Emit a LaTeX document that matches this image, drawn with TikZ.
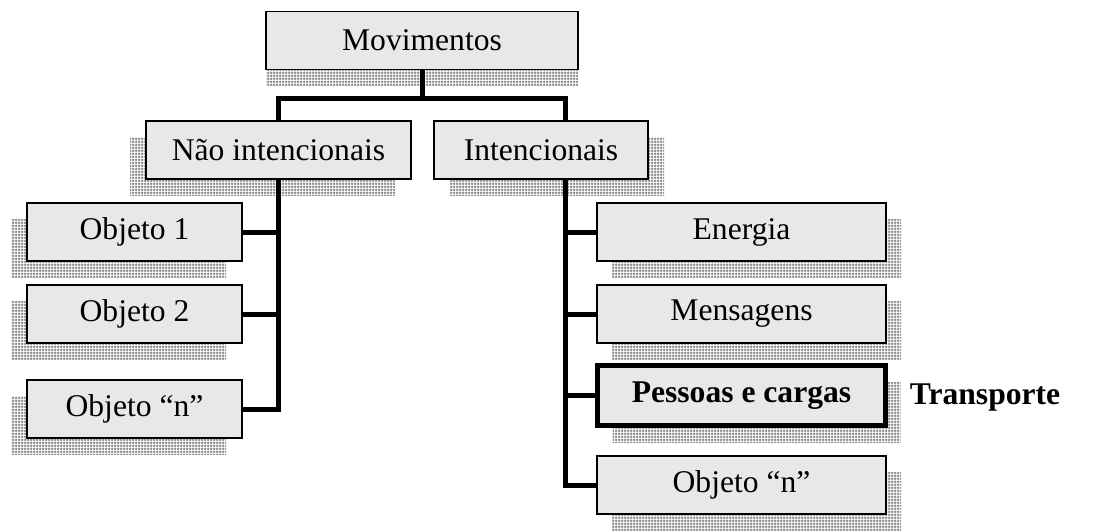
\documentclass[tikz,border=0pt]{standalone}
\usepackage{fontspec}
\setmainfont{Liberation Serif}
\usetikzlibrary{shadows,patterns}
\pgfdeclarepatternformonly{finegrid}{\pgfpointorigin}{\pgfpoint{1.5pt}{1.5pt}}{\pgfpoint{1.5pt}{1.5pt}}{
  \pgfsetlinewidth{0.6pt}
  \pgfpathmoveto{\pgfpoint{0pt}{0.75pt}}\pgfpathlineto{\pgfpoint{1.5pt}{0.75pt}}
  \pgfpathmoveto{\pgfpoint{0.75pt}{0pt}}\pgfpathlineto{\pgfpoint{0.75pt}{1.5pt}}
  \pgfusepath{stroke}}
\begin{document}
\begin{tikzpicture}[x=.5pt,y=-.5pt,
    box/.style={draw,fill=gray!18,line width=.75pt,inner sep=0pt,minimum height=29pt,
      font=\fontsize{15.8}{19}\selectfont},
    shd/.style 2 args={general shadow={shadow xshift=#1,shadow yshift=#2,
      pattern=finegrid,pattern color=gray}},
    conn/.style={line width=2.5pt}]
  \useasboundingbox (0,0) rectangle (1106,530);
  % top level
  \node[box,minimum width=156pt,shd={0pt}{-8pt}] (mov) at (422,40.5) {Movimentos};
  \node[box,minimum width=132.5pt,shd={-8pt}{-8pt}] (nao) at (278.5,150) {Não intencionais};
  \node[box,minimum width=107pt,shd={8pt}{-8pt}] (int) at (541,150) {Intencionais};
  \coordinate (itop) at (565,121);
  \coordinate (ibot) at (565,179);
  % left branch
  \node[box,minimum width=107.5pt,shd={-8pt}{-8pt}] (ob1) at (134.5,232) {Objeto 1};
  \node[box,minimum width=107.5pt,shd={-8pt}{-8pt}] (ob2) at (134.5,314) {Objeto 2};
  \node[box,minimum width=107.5pt,shd={-8pt}{-8pt}] (obn) at (134.5,409) {Objeto ``n''};
  % right branch
  \node[box,minimum width=144.5pt,shd={7.5pt}{-8pt}] (ene) at (741.5,232) {Energia};
  \node[box,minimum width=144.5pt,shd={7.5pt}{-8pt}] (men) at (741.5,314) {Mensagens};
  \node[box,minimum width=144pt,minimum height=30pt,line width=2.4pt,shd={7.5pt}{-8.5pt},
    font=\fontsize{15.8}{19}\selectfont\bfseries] (pes) at (741.5,395.5) {Pessoas e cargas};
  \node[box,minimum width=144.5pt,shd={7.5pt}{-8pt}] (obr) at (741.5,485) {Objeto ``n''};
  \node[font=\fontsize{15.8}{19}\selectfont\bfseries] (tra) at (985,398) {Transporte};
  % connectors
  \draw[conn] (mov.south) -- ++(0,28) -| (nao.north);
  \draw[conn] (mov.south) ++(0,28) -| (itop);
  \draw[conn] (nao.south) |- (obn.east);
  \foreach \n in {ob1,ob2} \draw[conn] (\n.east) -- (\n.east -| nao.south);
  \draw[conn] (ibot) |- (obr.west);
  \foreach \n in {ene,men,pes} \draw[conn] (\n.west) -- (\n.west -| ibot);
\end{tikzpicture}
\end{document}
